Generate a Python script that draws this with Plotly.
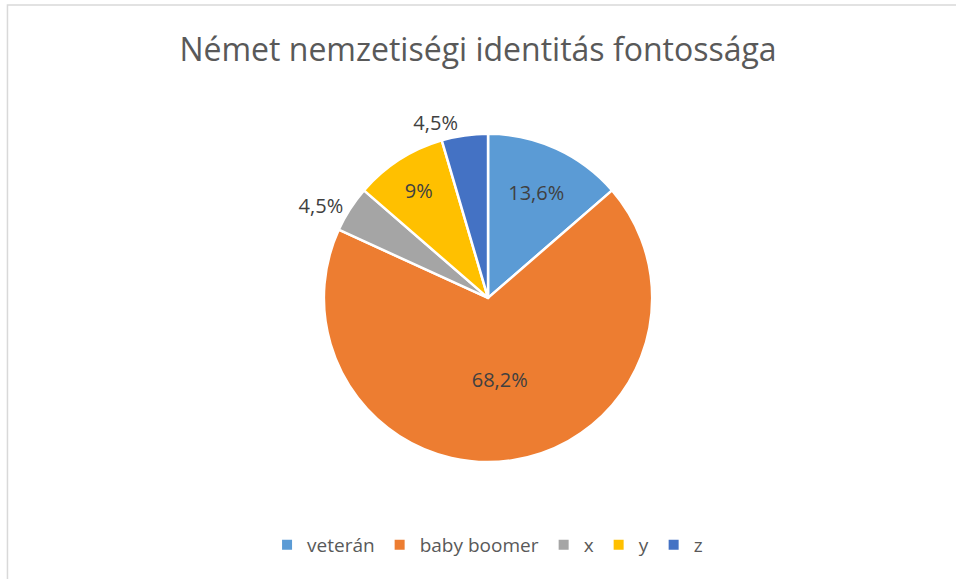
import plotly.graph_objects as go

# chart data
categories = ["veterán", "baby boomer", "x", "y", "z"]
counts = [3, 15, 1, 2, 1]
label_texts = ["13,6%", "68,2%", "4,5%", "9%", "4,5%"]
label_positions = ["inside", "inside", "outside", "inside", "outside"]
colors = ["#5B9BD5", "#ED7D31", "#A5A5A5", "#FFC000", "#4472C4"]

FONT = "Open Sans"

fig = go.Figure(go.Pie(
    labels=categories,
    values=counts,
    text=label_texts,
    textinfo="text",
    textposition=label_positions,
    insidetextorientation="horizontal",
    sort=False,
    direction="clockwise",
    rotation=0,
    marker=dict(colors=colors, line=dict(color="white", width=2.5)),
    textfont=dict(family=FONT, size=20, color="#404040"),
    domain=dict(x=[0.2, 0.821], y=[0.202, 0.769]),
))

# thin grey frame around the chart area
fig.add_shape(type="rect", xref="paper", yref="paper",
              x0=0.0078, x1=1.02, y0=-0.02, y1=0.9914,
              line=dict(color="#D9D9D9", width=1.5), fillcolor="rgba(0,0,0,0)")

fig.update_layout(
    width=956, height=579,
    margin=dict(l=0, r=0, t=0, b=0),
    paper_bgcolor="white",
    title=dict(text="Német nemzetiségi identitás fontossága",
               x=0.5, xanchor="center", y=0.9136, yanchor="middle",
               font=dict(family=FONT, size=32, color="#595959")),
    legend=dict(orientation="h", x=0.51, xanchor="center", y=0.0587, yanchor="middle",
                font=dict(family=FONT, size=19, color="#595959"),
                itemsizing="constant", traceorder="normal"),
)

fig.write_html("out.html", config={"displayModeBar": False},
               post_script="document.body.style.margin='0';")
